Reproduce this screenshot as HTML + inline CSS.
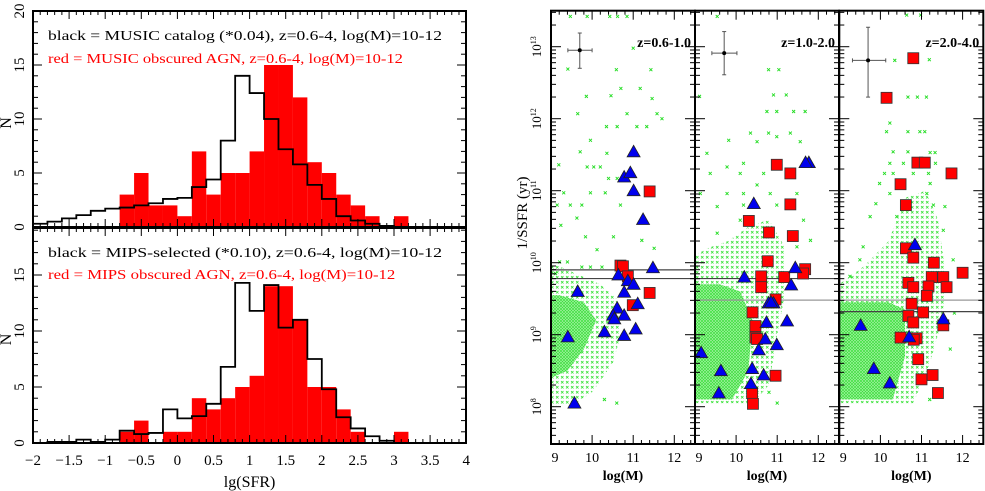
<!DOCTYPE html>
<html><head><meta charset="utf-8"><style>
html,body{margin:0;padding:0;background:#fff;width:985px;height:491px;overflow:hidden}
svg text{font-family:"Liberation Serif",serif}
</style></head><body>
<svg id="chart" width="985" height="491" viewBox="0 0 985 491" xmlns="http://www.w3.org/2000/svg">
<defs>
<pattern id="xpat" width="5" height="5" patternUnits="userSpaceOnUse">
<path d="M1,1L3.5,3.5M3.5,1L1,3.5" stroke="#33e033" stroke-width="0.8"/></pattern>
<pattern id="xpat2" width="3" height="3" patternUnits="userSpaceOnUse">
<rect width="3" height="3" fill="#a8f5a8"/><path d="M0,0L3,3M3,0L0,3" stroke="#3ddd3d" stroke-width="0.7"/></pattern>
</defs>
<g id="left"></g>
<g id="right"></g>
</svg>
<script>
// ---------- Histogram data ----------
const binStarts = [-2,-1.8,-1.6,-1.4,-1.2,-1.0,-0.8,-0.6,-0.4,-0.2,0,0.2,0.4,0.6,0.8,1.0,1.2,1.4,1.6,1.8,2.0,2.2,2.4,2.6,2.8,3.0];
const binWidth = 0.2;
const topRed   = [0,0,0,0,0,0,3,5,2,2,1,7,3,5,5,7,15,15,12,6,5,3,2,1,0,1];
const topBlack = [0.3,0.5,0.8,1.1,1.5,1.7,1.8,2.0,2.2,2.6,2.7,3.7,4.4,8.0,14,12.4,10,7.2,5.8,3.9,2.6,1.0,0.6,0.3,0.1,0];
const botRed   = [0,0,0,0,0,0,1,2,0,1,1,4,3,4,5,6,14,14,11,5,5,3,1,0,0,1];
const botBlack = [0,0.1,0.1,0.3,0.1,0.3,1.1,0.8,0.9,3.0,2.2,2.4,3.5,6.8,14.3,11.8,14.1,10.3,11,7.5,4.8,2.3,1.3,0.6,0.2,0];
const xTickLabels = ["-2","-1.5","-1","-0.5","0","0.5","1","1.5","2","2.5","3","3.5","4"];
const yTickLabels = ["0","5","10","15","20"];

// ---------- Scatter data: [logM, log(1/SSFR)] ----------
const panelTitles = ["z=0.6-1.0","z=1.0-2.0","z=2.0-4.0"];
const tri1 = [[11.01,11.54],[10.78,11.19],[10.93,11.25],[11.01,11.0],[11.24,10.6],[11.48,9.93],[10.64,9.83],[10.87,9.75],[11.01,9.7],[10.78,9.59],[9.65,9.6],[11.11,9.43],[10.61,9.37],[10.51,9.27],[10.78,9.27],[10.54,9.22],[10.3,9.04],[11.06,9.08],[9.41,8.97],[10.78,8.99],[9.57,8.05]];
const sq1 = [[11.40,10.99],[10.69,9.96],[10.75,9.95],[10.87,9.81],[10.99,9.41],[11.40,9.58]];
const tri2 = [[10.43,10.82],[11.77,11.39],[11.69,11.39],[10.2,9.8],[11.44,9.93],[11.34,9.69],[9.15,8.75],[9.63,8.5],[9.58,8.19],[10.39,8.53],[10.36,8.32],[10.67,8.44],[10.55,8.79],[10.71,8.94],[10.99,8.86],[10.74,9.17],[11.24,9.19],[10.79,9.44],[10.91,9.44],[10.85,9.45]];
const sq2 = [[10.99,11.36],[11.32,11.24],[11.32,10.81],[10.31,10.58],[10.8,10.42],[11.38,10.37],[10.77,10.02],[11.68,9.91],[11.63,9.85],[11.17,9.8],[10.61,9.81],[10.61,9.66],[10.96,9.49],[10.4,9.31],[10.47,9.12],[10.47,8.96],[10.51,8.94],[10.96,8.43],[10.39,8.19],[10.41,8.04]];
const tri3 = [[10.84,10.25],[9.52,9.13],[11.53,9.22],[10.7,8.97],[9.84,8.53],[10.23,8.33]];
const sq3 = [[10.8,12.84],[10.15,12.29],[10.9,11.39],[11.08,11.39],[11.73,11.24],[10.49,11.09],[10.62,10.8],[10.62,10.2],[10.8,10.07],[11.3,10.0],[12.0,9.86],[11.25,9.8],[11.53,9.8],[11.61,9.66],[10.68,9.72],[10.8,9.66],[11.17,9.67],[11.13,9.54],[10.76,9.43],[11.04,9.31],[10.68,9.26],[10.8,9.17],[11.53,9.13],[10.49,8.96],[10.88,8.95],[10.81,8.93],[10.92,8.66],[11.0,8.38],[11.27,8.44],[11.4,8.19]];
const green1 = [[9.47,13.42],[9.88,13.42],[10.43,13.42],[10.62,13.42],[10.85,13.42],[9.41,12.69],[9.86,12.31],[9.65,12.07],[10.59,12.68],[10.7,12.42],[10.46,12.32],[11.46,12.28],[11.43,12.68],[11.0,12.98],[11.17,12.42],[11.58,12.07],[11.7,12.0],[10.35,11.89],[10.61,11.89],[11.09,11.89],[11.33,11.89],[10.85,12.07],[9.96,11.7],[10.36,11.52],[9.71,11.54],[9.88,11.33],[10.04,11.33],[10.2,11.33],[9.19,11.36],[10.4,11.17],[10.61,11.17],[9.31,10.97],[9.15,10.8],[9.47,10.8],[9.75,10.8],[9.96,10.97],[10.32,10.97],[10.69,10.8],[9.24,10.52],[9.63,10.62],[9.84,10.36],[10.52,10.36],[11.21,10.31],[10.12,10.18],[11.51,10.2],[9.21,10.01],[9.4,10.01],[9.75,9.94],[9.96,9.94],[10.24,9.94],[9.11,9.85],[10.6,8.05],[10.3,8.1]];
const green2 = [[9.54,13.42],[9.11,12.31],[10.79,12.68],[11.04,12.68],[10.91,12.33],[11.22,12.33],[10.75,12.1],[10.99,12.1],[11.68,12.1],[11.4,12.1],[9.82,11.7],[10.35,11.8],[10.51,11.68],[10.79,11.8],[10.99,11.75],[11.32,11.8],[11.56,11.68],[9.29,11.52],[9.78,11.33],[10.18,11.38],[10.1,11.24],[10.67,11.24],[10.51,11.08],[9.37,11.24],[9.13,10.96],[9.78,10.96],[10.18,10.96],[10.83,10.96],[11.48,10.96],[9.54,10.78],[10.18,10.8],[10.99,10.8],[10.1,10.59],[11.64,10.59],[9.54,10.41],[11.48,10.22],[11.81,10.31],[11.0,8.05],[10.8,8.2]];
const green3 = [[10.64,13.44],[10.98,13.44],[10.35,12.81],[11.19,12.82],[10.67,12.3],[10.9,12.3],[11.12,12.3],[10.23,11.94],[10.15,11.82],[10.67,11.82],[10.96,11.82],[11.08,11.82],[10.31,11.54],[10.67,11.54],[11.21,11.53],[11.33,11.53],[10.23,11.38],[10.56,11.38],[11.34,11.38],[10.1,11.24],[10.31,11.24],[10.8,11.24],[11.17,11.24],[9.98,11.1],[11.21,11.1],[10.23,10.96],[11.13,10.96],[9.89,10.82],[11.29,10.8],[11.57,10.78],[9.75,10.64],[10.4,10.64],[11.53,10.45],[9.58,10.22],[9.5,10.04],[11.77,10.04],[9.26,9.81],[11.8,9.3],[11.7,8.8],[11.2,8.1]];
const cloud1 = [[9,8.0],[9.6,8.05],[10.0,8.2],[10.5,8.6],[10.7,9.0],[10.6,9.5],[10.2,9.7],[9.6,9.85],[9,10.0]];
const core1 = [[9,8.4],[9.4,8.5],[9.8,8.8],[10.1,9.2],[9.8,9.45],[9.2,9.55],[9,9.55]];
const cloud2 = [[9,8.05],[10.4,8.05],[10.8,8.3],[11.0,9.0],[11.2,9.6],[11.2,10.2],[10.8,10.6],[10.3,10.5],[9.8,10.3],[9.3,10.2],[9,10.1]];
const core2 = [[9,8.1],[9.9,8.1],[10.3,8.5],[10.4,9.2],[10.1,9.6],[9.6,9.7],[9,9.7]];
const cloud3 = [[9,8.05],[10.8,8.05],[11.2,8.6],[11.5,9.2],[11.6,9.8],[11.4,10.6],[11.1,11.0],[10.6,10.9],[10.2,10.3],[9.6,9.95],[9,9.7]];
const core3 = [[9,8.1],[10.3,8.1],[10.6,8.7],[10.6,9.35],[10.2,9.45],[9.6,9.45],[9,9.45]];
const errX = [9.7,9.71,9.7];
const errY = [12.95,12.91,12.81];
const errXlo = [9.41,9.41,9.32], errXhi = [10.0,10.02,10.13];
const errYlo = [12.70,12.61,12.30], errYhi = [13.19,13.21,13.27];
const hLines1 = [9.9,9.78];
const hLines2 = [9.78,9.48];
const hLines3 = [9.48,9.32];
const yDecades = [8,9,10,11,12,13];
const massTicks = [9,10,11,12];

const NS="http://www.w3.org/2000/svg";
function mk(parent,tag,attrs,text){const e=document.createElementNS(NS,tag);for(const k in attrs)e.setAttribute(k,attrs[k]);if(text!==undefined)e.textContent=text;parent.appendChild(e);return e;}

// ---------- Left histograms ----------
const L=document.getElementById('left');
const lx=v=>33+(v+2)*72.2;
const panels=[{y0:227,s:10.8,top:11,red:topRed,black:topBlack,name:'music',
  t1:"black = MUSIC catalog (*0.04), z=0.6-4, log(M)=10-12",t1y:40,t2:"red = MUSIC obscured AGN, z=0.6-4, log(M)=10-12",t2y:63},
 {y0:443,s:11.2,top:228,red:botRed,black:botBlack,name:'mips',
  t1:"black = MIPS-selected (*0.10), z=0.6-4, log(M)=10-12",t1y:257,t2:"red = MIPS obscured AGN, z=0.6-4, log(M)=10-12",t2y:279}];
panels.forEach((p,pi)=>{
  const g=mk(L,'g',{});
  
  
  const y=n=>p.y0-n*p.s;
  p.red.forEach((v,i)=>{ if(v<=0)return;
    const r=mk(g,'rect',{x:lx(binStarts[i]),y:y(v),width:lx(binStarts[i]+binWidth)-lx(binStarts[i]),height:y(0)-y(v),fill:'#ff0000'});
    
    
  });
  let d='M'+lx(binStarts[0])+','+y(p.black[0]);
  p.black.forEach((v,i)=>{ d+=' L'+lx(binStarts[i])+','+y(v)+' L'+lx(binStarts[i]+binWidth)+','+y(v); });
  const st=mk(g,'path',{d:d,fill:'none',stroke:'#000','stroke-width':1.8});
  
  
  const fr=mk(g,'rect',{x:33,y:p.top,width:433,height:p.y0-p.top,fill:'none',stroke:'#000','stroke-width':2});
  
  
  for(let k=0;k<=60;k++){const v=-2+k*0.1;const X=lx(v);const len=(k%5==0)?8:4;
    mk(g,'line',{x1:X,x2:X,y1:p.y0,y2:p.y0-len,stroke:'#000','stroke-width':1});
    mk(g,'line',{x1:X,x2:X,y1:p.top,y2:p.top+len,stroke:'#000','stroke-width':1});}
  for(let n=0;n<=20;n++){const Y=y(n);if(Y<p.top-0.5)break;const len=(n%5==0)?9:5;
    mk(g,'line',{x1:33,x2:33+len,y1:Y,y2:Y,stroke:'#000','stroke-width':1});
    mk(g,'line',{x1:466,x2:466-len,y1:Y,y2:Y,stroke:'#000','stroke-width':1});}
  yTickLabels.forEach((t,i)=>{const Y=y(i*5);if(Y<p.top-3)return;
    const tx=mk(g,'text',{x:0,y:0,'font-size':15,'text-anchor':'middle',transform:`translate(24,${Y}) rotate(-90)`},t);
    
    });
  const yl=mk(g,'text',{'font-size':16,'text-anchor':'middle',transform:`translate(11,${(p.y0+p.top)/2+4}) rotate(-90)`},'N');
  
  
  const a=mk(g,'text',{x:48,y:p.t1y,'font-size':13.5,fill:'#000',textLength:394,lengthAdjust:'spacingAndGlyphs'},p.t1);
  
  
  const b=mk(g,'text',{x:48,y:p.t2y,'font-size':13.5,fill:'#ff0000',textLength:p.t2.length*7.55,lengthAdjust:'spacingAndGlyphs'},p.t2);
  
  
});
xTickLabels.forEach((t,i)=>{const tx=mk(L,'text',{x:lx(-2+i*0.5),y:465,'font-size':15,'text-anchor':'middle'},t.replace('-','\u2212'));
  
  });
const xt=mk(L,'text',{x:lx(1),y:487,'font-size':16,'text-anchor':'middle'},'lg(SFR)');



// ---------- Right scatter panels ----------
const R=document.getElementById('right');
const PL=[551,695,839.3], PT=10.7, PB=444, PW=144;
const py=v=>46.7+(13-v)*72;
const tris=[tri1,tri2,tri3], sqs=[sq1,sq2,sq3], greens=[green1,green2,green3], clouds=[cloud1,cloud2,cloud3], cores=[core1,core2,core3], hls=[hLines1,hLines2,hLines3];
for(let i=0;i<3;i++){
  const px=m=>PL[i]+(m-9)*41.1;
  const g=mk(R,'g',{});
  
  
  const clip=mk(g,'clipPath',{id:'cp'+i});mk(clip,'rect',{x:PL[i],y:PT,width:PW,height:PB-PT});
  const gg=mk(g,'g',{'clip-path':`url(#cp${i})`});
  const c1=mk(gg,'polygon',{points:clouds[i].map(p=>px(p[0])+','+py(p[1])).join(' '),fill:'url(#xpat)'});
  
  
  const c2=mk(gg,'polygon',{points:cores[i].map(p=>px(p[0])+','+py(p[1])).join(' '),fill:'url(#xpat2)'});
  
  
  greens[i].forEach(p=>{const X=px(p[0]),Y=py(p[1]);
    const c=mk(gg,'path',{d:`M${X-1.5},${Y-1.5}L${X+1.5},${Y+1.5}M${X+1.5},${Y-1.5}L${X-1.5},${Y+1.5}`,stroke:'#22dd22','stroke-width':0.9});
    
    });
  hls[i].forEach((v,k)=>{const ln=mk(gg,'line',{x1:PL[i],x2:PL[i]+PW,y1:py(v),y2:py(v),stroke:(i>0&&((i==1&&k==1)||(i==2&&k==0)))?'#999':'#444','stroke-width':1.2});
    
    });
  sqs[i].forEach(p=>{const X=px(p[0]),Y=py(p[1]);
    const s=mk(gg,'rect',{x:X-5.5,y:Y-5.5,width:11,height:11,fill:'#ff0000',stroke:'#333','stroke-width':0.8});
    
    });
  tris[i].forEach(p=>{const X=px(p[0]),Y=py(p[1]);
    const t=mk(gg,'polygon',{points:`${X-6.5},${Y+5} ${X+6.5},${Y+5} ${X},${Y-6.5}`,fill:'#0000ee',stroke:'#222','stroke-width':0.8});
    
    });
  const eg=mk(g,'g',{stroke:'#555','stroke-width':1});
  
  
  mk(eg,'line',{x1:px(errXlo[i]),x2:px(errXhi[i]),y1:py(errY[i]),y2:py(errY[i])});
  mk(eg,'line',{x1:px(errX[i]),x2:px(errX[i]),y1:py(errYlo[i]),y2:py(errYhi[i])});
  [errXlo[i],errXhi[i]].forEach(v=>mk(eg,'line',{x1:px(v),x2:px(v),y1:py(errY[i])-2,y2:py(errY[i])+2}));
  [errYlo[i],errYhi[i]].forEach(v=>mk(eg,'line',{x1:px(errX[i])-2,x2:px(errX[i])+2,y1:py(v),y2:py(v)}));
  mk(g,'circle',{cx:px(errX[i]),cy:py(errY[i]),r:2,fill:'#000'});
  const fr=mk(g,'rect',{x:PL[i],y:PT,width:PW,height:PB-PT,fill:'none',stroke:'#000','stroke-width':2});
  
  
  for(let d=7;d<=13;d++){for(let m=1;m<=9;m++){const v=d+Math.log10(m);const Y=py(v);if(Y<PT||Y>PB)continue;
    const len=m==1?10:5;
    mk(g,'line',{x1:PL[i],x2:PL[i]+len,y1:Y,y2:Y,stroke:'#000','stroke-width':1});
    mk(g,'line',{x1:PL[i]+PW,x2:PL[i]+PW-len,y1:Y,y2:Y,stroke:'#000','stroke-width':1});}}
  for(let k=0;k<=17;k++){const m=9+k*0.2;const X=px(m);if(X>PL[i]+PW)break;const len=(k%5==0)?9:4;
    mk(g,'line',{x1:X,x2:X,y1:PB,y2:PB-len,stroke:'#000','stroke-width':1});
    mk(g,'line',{x1:X,x2:X,y1:PT,y2:PT+len,stroke:'#000','stroke-width':1});}
  massTicks.forEach(m=>{const X=px(m);const tx=mk(g,'text',{x:m==9?X+4:X,y:462,'font-size':14,'text-anchor':'middle'},String(m));
    
    });
  const xl=mk(g,'text',{x:PL[i]+PW/2,y:480,'font-size':14,'font-weight':'bold','text-anchor':'middle'},'log(M)');
  
  
  const ti=mk(g,'text',{x:PL[i]+PW-4,y:47,'font-size':14,'font-weight':'bold','text-anchor':'end'},panelTitles[i]);
  
  
}
yDecades.forEach(d=>{const t=mk(R,'text',{'font-size':13,'text-anchor':'middle',transform:`translate(541,${py(d)}) rotate(-90)`});
  
  
  mk(t,'tspan',{},'10');mk(t,'tspan',{dy:-5,'font-size':8},String(d));});
const ylab=mk(R,'text',{'font-size':15,'text-anchor':'middle',transform:`translate(527,213) rotate(-90)`},'1/SSFR (yr)');


</script>
</body></html>
